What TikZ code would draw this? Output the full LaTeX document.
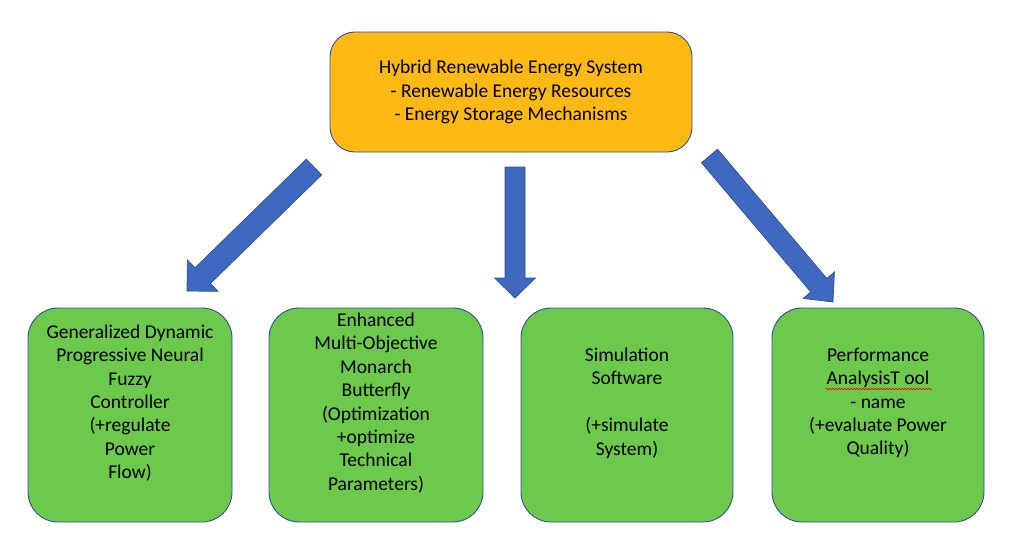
\documentclass[tikz,border=0pt]{standalone}
\usepackage{fontspec}
\setmainfont{Carlito}
\usetikzlibrary{calc,decorations.pathmorphing}
\definecolor{gold}{HTML}{FDB913}
\definecolor{leaf}{HTML}{6CC94B}
\definecolor{edgeblue}{HTML}{2F528F}
\definecolor{arrowblue}{HTML}{3F68C0}
\tikzset{
  box/.style={draw=edgeblue, line width=0.9pt, fill=leaf, rounded corners=30pt,
    minimum height=214pt, inner sep=0pt},
  topbox/.style={draw=edgeblue, line width=0.9pt, fill=gold, rounded corners=25pt,
    minimum width=362pt, minimum height=120pt, align=center,
    font=\fontsize{19.5}{23.4}\selectfont},
  txt/.style={align=center, font=\fontsize{19.5}{23.4}\selectfont, inner sep=0pt},
  blockarrow/.style={fill=arrowblue, draw=edgeblue, line width=0.7pt, line join=miter},
  wavy/.style={draw=red, line width=0.6pt, decorate,
    decoration={snake, segment length=3pt, amplitude=0.8pt}}
}
% #1 tail, #2 tip, #3 half shaft width, #4 half head width, #5 head length
\newcommand\blockarrow[5]{%
  \path[blockarrow] let \p1=(#1), \p2=(#2),
    \n1={atan2(\y2-\y1,\x2-\x1)}, \n2={veclen(\x2-\x1,\y2-\y1)} in
    [shift={(\p1)}, rotate=\n1]
    (0pt,-#3) -- ({\n2-#5},-#3) -- ({\n2-#5},-#4) -- (\n2,0pt)
    -- ({\n2-#5},#4) -- ({\n2-#5},#3) -- (0pt,#3) -- cycle;}
\begin{document}
\begin{tikzpicture}[x=1pt,y=-1pt]
\useasboundingbox (0,0) rectangle (1023,557);

\node[topbox] (top) at (511,92) {Hybrid Renewable Energy System\\- Renewable Energy Resources\\- Energy Storage Mechanisms};

\node[box, minimum width=204pt] (b1) at (130,415) {};
\node[box, minimum width=214pt] (b2) at (376,415) {};
\node[box, minimum width=212pt] (b3) at (627,415) {};
\node[box, minimum width=212pt] (b4) at (878,415) {};

\node[txt] (t1) at (130,403) {Generalized Dynamic\\Progressive Neural\\Fuzzy\\Controller\\(+regulate\\Power\\Flow)};
\node[txt] (t2) at (376,403) {Enhanced\\Multi-Objective\\Monarch\\Butterfly\\(Optimization\\+optimize\\Technical\\Parameters)};
\node[txt] (t3) at (627,403) {Simulation\\Software\\\strut\\(+simulate\\System)};
\node[txt] (t4) at (878,403) {Performance\\AnalysisT ool\\- name\\(+evaluate Power\\Quality)};

\path[wavy] (826,389) -- (932,389);

\coordinate (a1s) at (314,167);
\coordinate (a1e) at (187,291);
\coordinate (a2s) at (515,167);
\coordinate (a2e) at (515,298);
\coordinate (a3s) at (709.5,156);
\coordinate (a3e) at (833,302);

\blockarrow{a1s}{a1e}{11pt}{22pt}{22pt}
\blockarrow{a2s}{a2e}{10pt}{20.5pt}{20pt}
\blockarrow{a3s}{a3e}{10.5pt}{20.5pt}{22pt}
\end{tikzpicture}
\end{document}
